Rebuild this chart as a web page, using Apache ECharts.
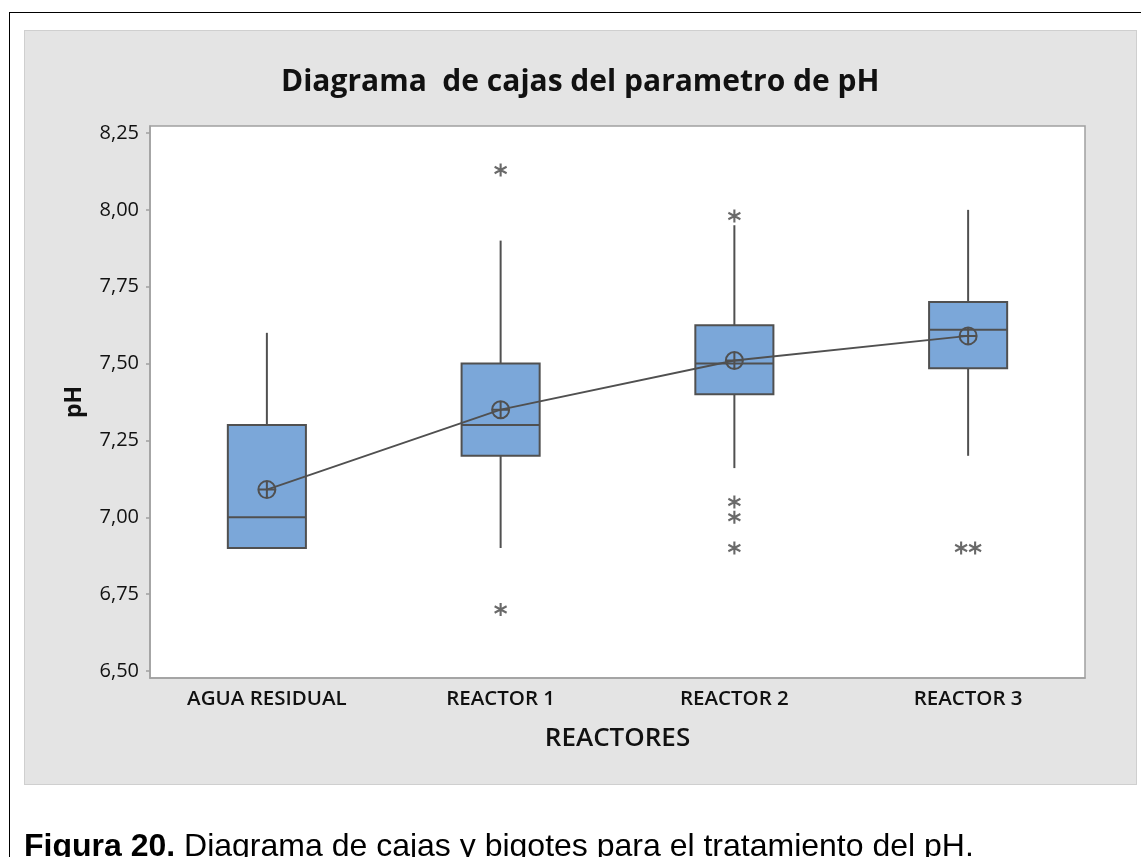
<!DOCTYPE html>
<html>
<head>
<meta charset="utf-8">
<script src="https://cdn.jsdelivr.net/npm/echarts@6/dist/echarts.min.js"></script>
<style>
  html, body { margin: 0; padding: 0; background: #fff; }
  #page { position: relative; width: 1141px; height: 857px; overflow: hidden; }
  #frameTop { position: absolute; left: 9px; top: 12px; width: 1132px; height: 1px; background: #000; }
  #frameLeft { position: absolute; left: 9px; top: 12px; width: 1px; height: 845px; background: #000; }
  #panel { position: absolute; left: 24px; top: 30px; width: 1111px; height: 753px; background: #e4e4e4; border: 1px solid #cfcfcf; }
  #chart { position: absolute; left: 0; top: 0; width: 1141px; height: 857px; }
  #caption { position: absolute; left: 24px; top: 827px; font-family: "Liberation Sans", Arial, sans-serif; font-size: 32px; color: #000; white-space: nowrap; }
  #caption b { font-weight: bold; }
</style>
</head>
<body>
<div id="page">
  <div id="frameTop"></div>
  <div id="frameLeft"></div>
  <div id="panel"></div>
  <div id="chart"></div>
  <div id="caption"><b>Figura 20.</b> Diagrama de cajas y bigotes para el tratamiento del pH.</div>
</div>
<script>
// Categories and box statistics: [lower whisker, Q1, median, Q3, upper whisker]
const categories = ['AGUA RESIDUAL', 'REACTOR 1', 'REACTOR 2', 'REACTOR 3'];
const boxStats = [
  [6.90, 6.90, 7.00, 7.30, 7.60],
  [6.90, 7.20, 7.30, 7.50, 7.90],
  [7.16, 7.40, 7.50, 7.625, 7.95],
  [7.20, 7.485, 7.61, 7.70, 8.00]
];
// Mean of each group
const means = [7.09, 7.35, 7.51, 7.59];
// Outliers as [category index, value]
const outliers = [
  [1, 8.13], [1, 6.70],
  [2, 7.98], [2, 7.05], [2, 7.00], [2, 6.90],
  [3, 6.90], [3, 6.90]
];
// Tick values on the pH axis
const yTicks = [6.50, 6.75, 7.00, 7.25, 7.50, 7.75, 8.00, 8.25];

const ink = '#505050';
const boxFill = '#7ba7d9';
const font = 'Open Sans';

// Repeated outliers at the same value sit side by side
const seen = {};
const outlierData = outliers.map(function (p) {
  const key = p[0] + '_' + p[1];
  const count = outliers.filter(function (q) { return q[0] === p[0] && q[1] === p[1]; }).length;
  seen[key] = (seen[key] || 0) + 1;
  const k = seen[key] - 1;
  const shift = count > 1 ? (k - (count - 1) / 2) * 14 : 0;
  return { value: p, symbolOffset: [shift, 0] };
});

const chart = echarts.init(document.getElementById('chart'), null, { renderer: 'canvas' });

const pad = 0.0228; // small margin above/below the outer ticks
chart.setOption({
  backgroundColor: 'transparent',
  animation: false,
  title: {
    text: 'Diagrama  de cajas del parametro de pH',
    left: 276,
    top: 62,
    textStyle: { fontFamily: font, fontWeight: 'bold', fontSize: 30, color: '#111' }
  },
  grid: {
    left: 150, right: 56, top: 126, bottom: 179,
    show: true, backgroundColor: '#fff', borderColor: '#a0a0a0', borderWidth: 1.5
  },
  xAxis: {
    type: 'category',
    data: categories,
    boundaryGap: true,
    name: 'REACTORES',
    nameLocation: 'middle',
    nameGap: 48,
    nameTextStyle: { fontFamily: font, fontWeight: 600, fontSize: 26, color: '#111' },
    axisLine: { lineStyle: { color: '#a0a0a0', width: 1.5 } },
    axisTick: { alignWithLabel: true, length: 5, lineStyle: { color: '#a0a0a0', width: 1.5 } },
    axisLabel: { margin: 11, fontFamily: font, fontWeight: 600, fontSize: 20.5, color: '#111' },
    splitLine: { show: false }
  },
  yAxis: {
    type: 'value',
    min: yTicks[0] - pad,
    max: yTicks[yTicks.length - 1] + pad,
    name: 'pH',
    nameLocation: 'middle',
    nameRotate: 90,
    nameGap: 64,
    nameTextStyle: { fontFamily: font, fontWeight: 'bold', fontSize: 23, color: '#111' },
    axisLine: { show: true, lineStyle: { color: '#a0a0a0', width: 1.5 } },
    axisTick: { show: true, length: 4, customValues: yTicks, lineStyle: { color: '#a0a0a0', width: 1.5 } },
    axisLabel: {
      margin: 11, fontFamily: font, fontWeight: 500, fontSize: 20, color: '#111',
      customValues: yTicks,
      formatter: function (v) { return v.toFixed(2).replace('.', ','); }
    },
    splitLine: { show: false }
  },
  series: [
    {
      type: 'custom',
      name: 'boxes',
      data: boxStats.map(function (s, i) { return [i].concat(s); }),
      encode: { x: 0, y: [1, 2, 3, 4, 5] },
      renderItem: function (params, api) {
        const i = api.value(0);
        const x = api.coord([i, 0])[0];
        const w = api.size([1, 0])[0] * 0.334;
        const yMin = api.coord([i, api.value(1)])[1];
        const yQ1 = api.coord([i, api.value(2)])[1];
        const yMed = api.coord([i, api.value(3)])[1];
        const yQ3 = api.coord([i, api.value(4)])[1];
        const yMax = api.coord([i, api.value(5)])[1];
        const lineStyle = { stroke: ink, lineWidth: 2, fill: null };
        const children = [];
        if (yMax < yQ3) children.push({ type: 'line', shape: { x1: x, y1: yQ3, x2: x, y2: yMax }, style: lineStyle });
        if (yMin > yQ1) children.push({ type: 'line', shape: { x1: x, y1: yQ1, x2: x, y2: yMin }, style: lineStyle });
        children.push({ type: 'rect', shape: { x: x - w / 2, y: yQ3, width: w, height: yQ1 - yQ3 },
          style: { fill: boxFill, stroke: ink, lineWidth: 2 } });
        children.push({ type: 'line', shape: { x1: x - w / 2, y1: yMed, x2: x + w / 2, y2: yMed }, style: lineStyle });
        return { type: 'group', children: children };
      },
      z: 2
    },
    {
      type: 'line',
      name: 'mean',
      data: means,
      symbol: 'path://M0,-8A8,8 0 1,1 0,8A8,8 0 1,1 0,-8ZM-8,0L8,0M0,-8L0,8',
      symbolSize: 17,
      showAllSymbol: true,
      lineStyle: { color: ink, width: 1.8 },
      itemStyle: { color: 'rgba(0,0,0,0)', borderColor: ink, borderWidth: 2 },
      z: 3
    },
    {
      type: 'scatter',
      name: 'outliers',
      data: outlierData,
      symbol: 'path://M0,-6L0,6M-5.2,-3L5.2,3M-5.2,3L5.2,-3',
      symbolSize: [12, 13],
      itemStyle: { color: 'rgba(0,0,0,0)', borderColor: '#444', borderWidth: 2.2 },
      z: 4
    }
  ]
});
</script>
</body>
</html>
